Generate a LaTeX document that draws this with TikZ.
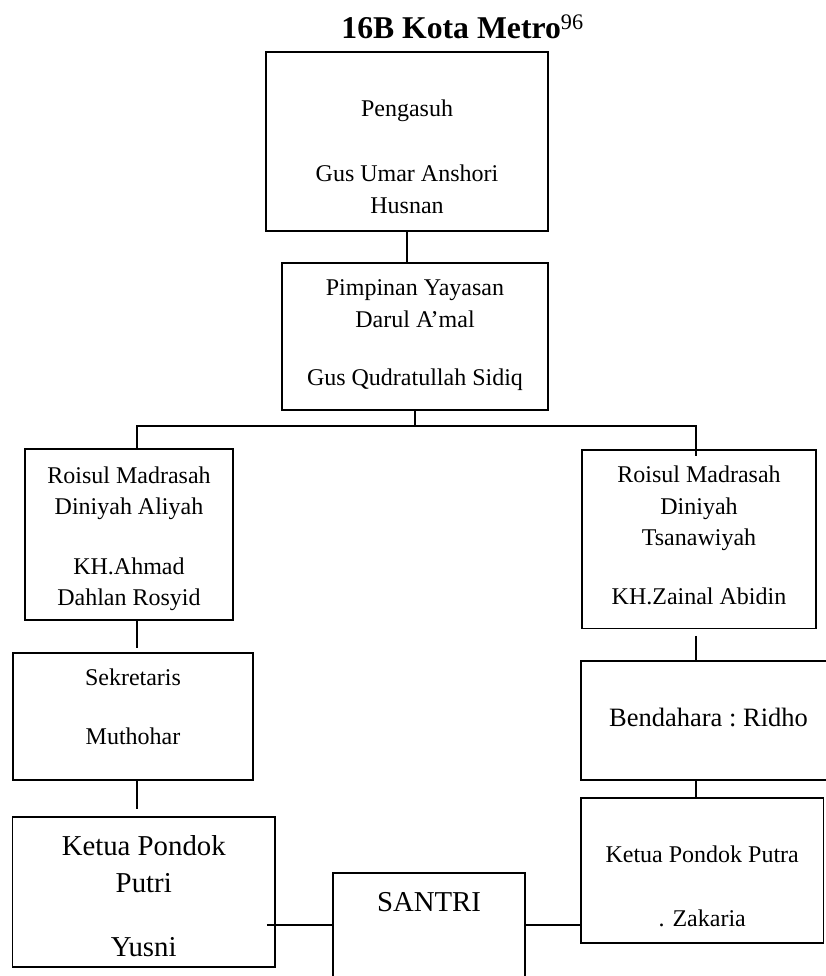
\documentclass[tikz,border=0pt]{standalone}
\usepackage{fontspec}
\setmainfont{Liberation Serif}
\newcommand{\padtop}[1]{\rule{0pt}{#1}}
\newcommand{\padbot}[1]{\rule[-#1]{0pt}{#1}}

\begin{document}
\begin{tikzpicture}[x=1pt, y=-1pt, line width=1.7pt,
                    block/.style={rectangle, draw, inner sep=0pt, align=center,
                                  font=\fontsize{24}{31.5}\selectfont},
                    bigblock/.style={block, font=\fontsize{28.8}{37.3}\selectfont}]
  \useasboundingbox (0,0) rectangle (825,976);
  \node[anchor=base, font=\fontsize{31.7}{38}\selectfont\bfseries] (title) at (462.5,38.3)
       {16B Kota Metro\textsuperscript{\normalfont 96}};
  \node[block, minimum width=282pt, minimum height=179pt] (pengasuh) at (407,141.5)
       {\padtop{53pt}Pengasuh\\[33.5pt]Gus Umar Anshori\\Husnan\padbot{6pt}};
  \node[block, minimum width=266pt, minimum height=147pt] (pimpinan) at (415,336.5)
       {\padtop{20pt}Pimpinan Yayasan\\Darul A’mal\\[27.2pt]Gus Qudratullah Sidiq\padbot{11.7pt}};
  \node[block, minimum width=208pt, minimum height=171pt] (aliyah) at (129,534.5)
       {\padtop{26pt}Roisul Madrasah\\Diniyah Aliyah\\[27.8pt]KH.Ahmad\\Dahlan Rosyid\padbot{6.1pt}};
  \node[block, minimum width=234.3pt, minimum height=178.3pt] (tsanawiyah) at (699,539.2)
       {\padtop{18pt}Roisul Madrasah\\Diniyah\\Tsanawiyah\\[26.8pt]KH.Zainal Abidin\padbot{9.7pt}};
  \node[block, minimum width=240.6pt, minimum height=127pt] (sekretaris) at (133,716.5)
       {\padtop{18pt}Sekretaris\\[26.8pt]Muthohar\padbot{21.3pt}};
  \node[block, minimum width=255pt, minimum height=119pt, font=\fontsize{26.5}{32}\selectfont]
       (bendahara) at (708.5,720.5) {\padtop{19pt}Bendahara :\ Ridho\padbot{6.6pt}};
  \node[block, minimum width=242.3pt, minimum height=145pt] (putra) at (702.2,870.5)
       {\padtop{55pt}Ketua Pondok Putra\\[32.5pt]. Zakaria\padbot{6.6pt}};
  \node[bigblock, minimum width=262.5pt, minimum height=150pt] (putri) at (143.75,892)
       {\padtop{34pt}Ketua Pondok\\Putri\\[27.1pt]Yusni\padbot{6.3pt}};
  \node[bigblock, minimum width=192pt, minimum height=104pt] (santri) at (429,925)
       {\padtop{21pt}SANTRI\padbot{47.6pt}};
  \draw (pengasuh.south) -- (pengasuh.south |- pimpinan.north);
  \draw (pimpinan.south) -- ++(0,15) coordinate (fork);
  \draw ([xshift=8pt]aliyah.north) |- (fork) -| ([xshift=-3pt, yshift=-7pt]tsanawiyah.north);
  \draw[shorten >=4pt] ([xshift=8pt]aliyah.south) -- ([xshift=8pt]aliyah.south |- sekretaris.north);
  \draw[shorten >=7pt] ([xshift=4pt]sekretaris.south) -- ([xshift=4pt]sekretaris.south |- putri.north);
  \draw[shorten <=6.7pt] ([xshift=-3pt]tsanawiyah.south) -- ([xshift=-3pt]tsanawiyah.south |- bendahara.north);
  \draw ([xshift=-3pt]tsanawiyah.south |- bendahara.south) -- ([xshift=-3pt]tsanawiyah.south |- putra.north);
  \draw[shorten <=-9pt] (putri.east |- santri.west) -- (santri.west);
  \draw (santri.east) -- (santri.east -| putra.west);
\end{tikzpicture}
\end{document}
